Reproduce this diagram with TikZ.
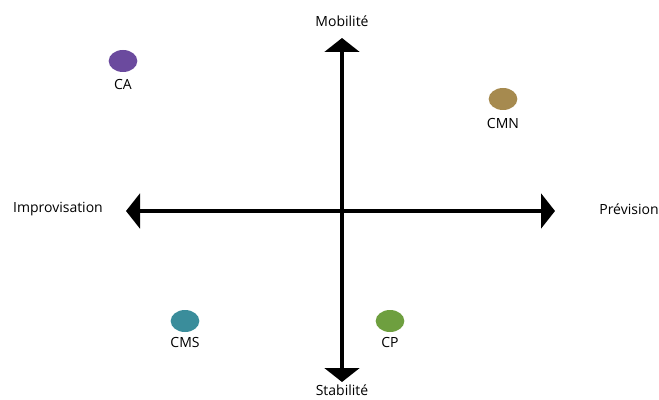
\documentclass[tikz,border=0pt]{standalone}
\usepackage{fontspec}
\setmainfont{Open Sans}
\usetikzlibrary{arrows.meta,shapes.geometric}
\definecolor{violetCA}{HTML}{6B4A9E}
\definecolor{orCMN}{HTML}{A68A4F}
\definecolor{bleuCMS}{HTML}{3A8D9B}
\definecolor{vertCP}{HTML}{6E9F3F}

\begin{document}
\begin{tikzpicture}[x=0.75pt,y=-0.75pt,>={Triangle[length=10.5pt,width=26pt]},
        font=\fontsize{10.5}{12}\selectfont,
        pastille/.style={ellipse,minimum width=21.5pt,minimum height=16.5pt,inner sep=0pt}]
        \useasboundingbox (0,0) rectangle (659,399);
        % axes
        \coordinate (haut) at (342,38);
        \coordinate (bas) at (342,382);
        \coordinate (gauche) at (126,211);
        \coordinate (droite) at (555,211);
        \draw[<->,line width=3pt] (haut) -- (bas);
        \draw[<->,line width=3pt] (gauche) -- (droite);
        \node (mob) at (342,21) {Mobilité};
        \node (stab) at (342,390) {Stabilité};
        \node (impro) at (58,209) {Improvisation};
        \node (prev) at (629,209) {Prévision};
        % points
        \node[pastille,fill=violetCA] (ca) at (123,61) {};
        \node (caL) at (123,85) {CA};
        \node[pastille,fill=orCMN] (cmn) at (503,99) {};
        \node (cmnL) at (503,123) {CMN};
        \node[pastille,fill=bleuCMS] (cms) at (185,321) {};
        \node (cmsL) at (185,342) {CMS};
        \node[pastille,fill=vertCP] (cp) at (390,321) {};
        \node (cpL) at (390,342) {CP};
    \end{tikzpicture}
\end{document}
